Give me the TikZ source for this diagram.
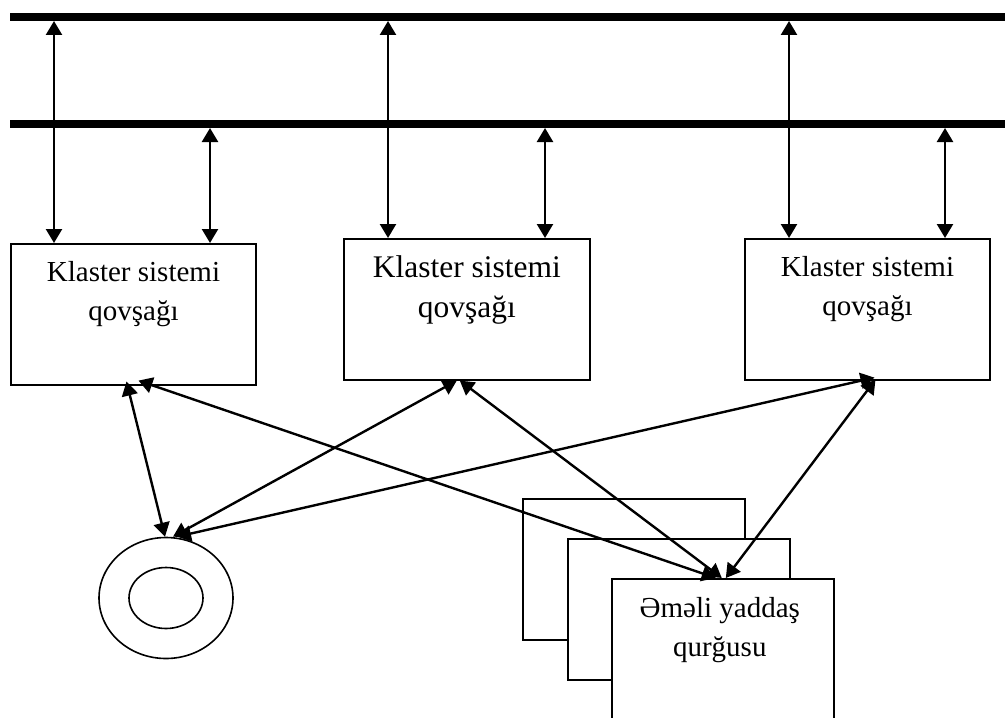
\documentclass[tikz,border=0pt]{standalone}
\usepackage{fontspec}
\setmainfont{Liberation Serif}
\usetikzlibrary{arrows.meta,shapes.geometric,calc}
\begin{document}
\begin{tikzpicture}[x=0.75pt,y=-0.75pt,
  bus/.style={line width=5.6pt},
  link/.style={line width=1.8pt,{Triangle[length=10.5pt,width=12pt]}-{Triangle[length=10.5pt,width=12pt]}},
  clbox/.style={draw,line width=1.2pt,rectangle,inner sep=0pt,anchor=north west,minimum width=184pt,minimum height=105.75pt},
  membox/.style={draw,line width=1.2pt,rectangle,inner sep=0pt,anchor=north west,fill=white,minimum width=166.5pt,minimum height=105.75pt},
  lbl/.style={inner sep=0pt,anchor=north,align=center,font=\fontsize{21.75pt}{26pt}\selectfont},
  ring/.style={draw,line width=1.2pt,ellipse,inner sep=0pt}]
\useasboundingbox (0,0) rectangle (1005,717);
\clip (0,0) rectangle (1005,717);
% buses
\coordinate (busAl) at (10,17);
\coordinate (busAr) at (1010,17);
\coordinate (busBl) at (10,124);
\coordinate (busBr) at (1010,124);
\draw[bus] (busAl) -- (busAr);
\draw[bus] (busBl) -- (busBr);
% cluster nodes
\node[clbox] (box1) at (10,243) {};
\node[clbox,minimum width=184.5pt] (box2) at (343,238) {};
\node[clbox] (box3) at (744,238) {};
\node[lbl] (t1) at ($(box1.north)+(0,18)$) {Klaster sistemi\\[3pt]qovşağı};
\node[lbl,font=\fontsize{23.6pt}{26pt}\selectfont] (t2) at ($(box2.north)+(0,17)$) {Klaster sistemi\\[4pt]qovşağı};
\node[lbl] (t3) at ($(box3.north)+(0,18)$) {Klaster sistemi\\[3pt]qovşağı};
% memory stack
\node[membox] (mem3) at (522,498) {};
\node[membox] (mem2) at (567,538) {};
\node[membox,minimum height=135pt] (mem1) at (611,578) {};
\node[lbl] (tm) at ($(mem1.north)+(-3,19)$) {Əməli yaddaş\\[3pt]qurğusu};
% disk
\node[ring,minimum width=100.5pt,minimum height=90.75pt] (disk) at (166,598) {};
\node[ring,minimum width=55.5pt,minimum height=45.75pt] (diskin) at (166,598) {};
% bus taps
\coordinate (u1) at (54,21);
\coordinate (u2) at (210,128);
\coordinate (u3) at (388,21);
\coordinate (u4) at (545,128);
\coordinate (u5) at (789,21);
\coordinate (u6) at (945,128);
\draw[link] (u1) -- (u1 |- box1.north);
\draw[link] (u2) -- (u2 |- box1.north);
\draw[link] (u3) -- (u3 |- box2.north);
\draw[link] (u4) -- (u4 |- box2.north);
\draw[link] (u5) -- (u5 |- box3.north);
\draw[link] (u6) -- (u6 |- box3.north);
% cross links
\draw[link] ($(box1.south)+(-7,-4)$) -- ($(disk.north)+(-1,0)$);
\draw[link] ($(box1.south)+(5,-5)$) -- ($(mem1.north)+(-7,0)$);
\draw[link] ($(box2.south)+(-10,0)$) -- ($(disk.north)+(7,0)$);
\draw[link] ($(box2.south)+(-7,0)$) -- ($(mem1.north)+(-1,0)$);
\draw[link] ($(box3.south)+(7,-3)$) -- ($(disk.north)+(11,0)$);
\draw[link] ($(box3.south)+(8,-1)$) -- ($(mem1.north)+(3,0)$);
\end{tikzpicture}
\end{document}
